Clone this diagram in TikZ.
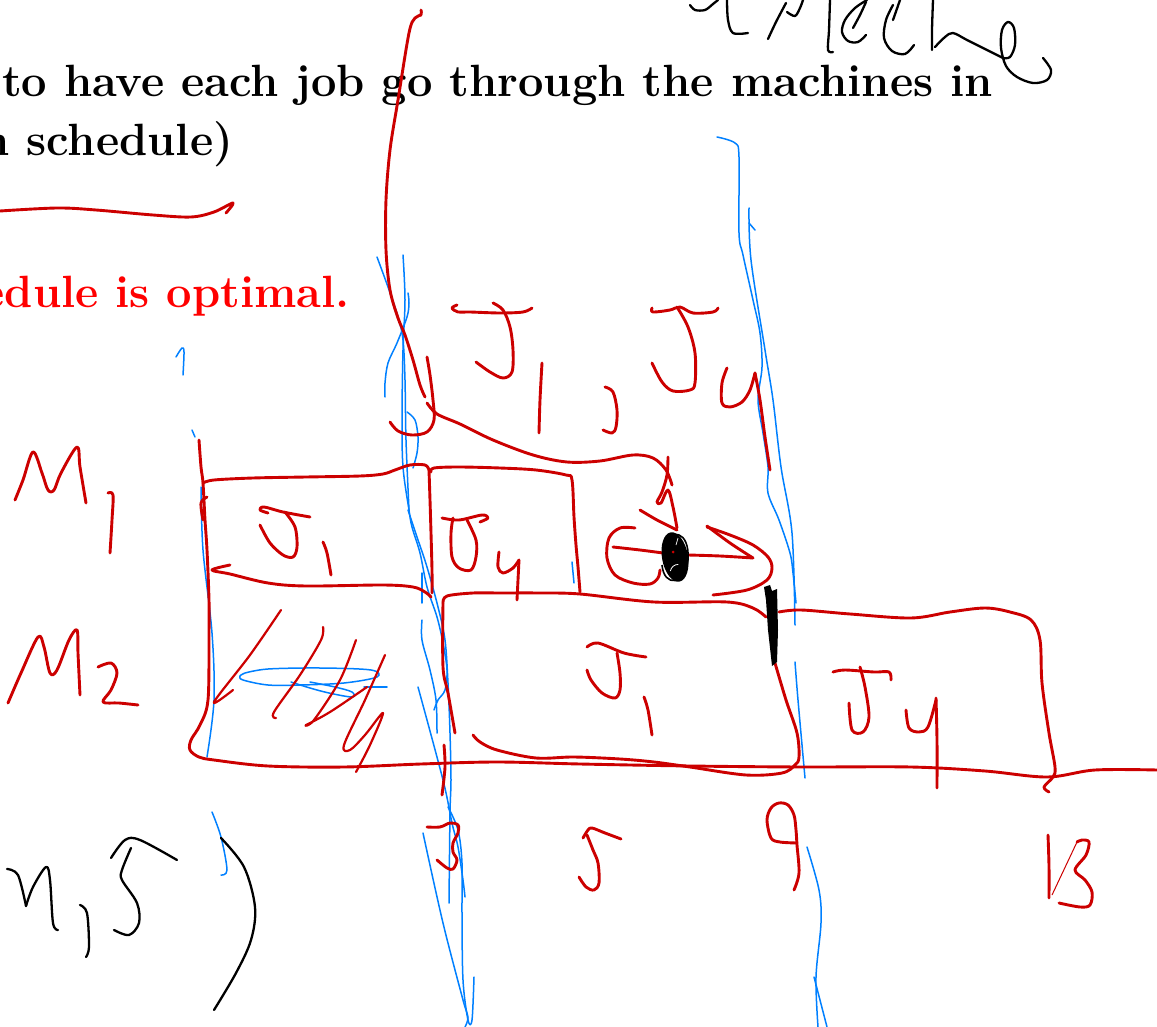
\documentclass[tikz,border=0pt]{standalone}
\usepackage{fontspec}
\definecolor{inkred}{RGB}{204,0,0}
\definecolor{textred}{RGB}{255,0,0}
\definecolor{inkblue}{RGB}{0,128,255}
\tikzset{
  rink/.style={draw=inkred, line width=2.9pt, line cap=round, line join=round},
  rthin/.style={draw=inkred, line width=2.2pt, line cap=round, line join=round},
  bink/.style={draw=inkblue, line width=1.5pt, line cap=round, line join=round},
  kink/.style={draw=black, line width=2.3pt, line cap=round, line join=round},
  tx/.style={inner sep=0pt, outer sep=0pt, font=\fontsize{45.2}{52}\selectfont\bfseries},
}
\newcommand{\stroke}[2]{\draw[#1] plot[smooth, tension=0.55] coordinates {#2};}
\begin{document}
\begin{tikzpicture}[x=1pt,y=-1pt]
\useasboundingbox (0,0) rectangle (1157,1027);
\clip (0,0) rectangle (1157,1027);
\fill[white] (0,0) rectangle (1157,1027);
% printed text
\node[tx, anchor=base west] (l1) at (2,97) {to have each job go through the machines in};
\node[tx, anchor=base east] (l2) at (233,156) {n schedule)};
\node[tx, text=textred, anchor=base east] (l3) at (350,307) {edule is optimal.};

% ---------------- blue ink ----------------
\stroke{bink}{(176,357) (182,348) (184,352) (183,375)}
\stroke{bink}{(192,430) (195,437)}
\stroke{bink}{(201,487) (203,550) (212,633) (214,700) (207,757)}
\stroke{bink}{(212,812) (221,837) (227,870) (221,875)}
\stroke{bink}{(245,673) (268,669) (320,668) (371,670) (377,677) (344,683) (300,685) (268,685) (243,680) (240,676) (245,673)}
\stroke{bink}{(291,682) (310,688) (329,693) (352,697) (352,692) (335,687) (310,682)}
\stroke{bink}{(364,687) (387,687)}
\stroke{bink}{(377,257) (388,287) (398,317) (403,340) (405,380) (406,440) (409,510)}
\stroke{bink}{(403,255) (405,300) (403,350) (402,417) (403,467) (409,510) (412,527) (420,553) (427,587) (437,617) (443,643) (447,670) (445,690) (438,700) (434,710)}
\stroke{bink}{(408,293) (409,303) (407,317) (397,343) (388,363) (385,383) (385,397)}
\stroke{bink}{(407,412) (415,420) (418,437) (417,453) (413,468)}
\stroke{bink}{(408,510) (417,537) (427,567) (438,607) (445,640) (448,683) (450,733) (451,780) (450,813) (449,903)}
\stroke{bink}{(422,573) (422,603)}
\stroke{bink}{(422,620) (422,640) (430,670) (436,700) (437,733)}
\stroke{bink}{(418,687) (443,780) (452,823) (458,847) (463,880) (465,897)}
\stroke{bink}{(448,807) (458,830) (462,863) (462,913) (463,980) (468,1020) (472,1020) (474,977)}
\stroke{bink}{(423,833) (443,923) (463,1000) (468,1017) (465,1027)}
\stroke{bink}{(717,137) (735,143) (739,157) (739,233) (743,255) (753,300) (760,333) (762,367) (758,400) (763,433) (768,467) (768,493) (779,520) (790,553) (793,573) (796,603)}
\stroke{bink}{(749,208) (751,260) (765,350) (773,400) (781,467) (792,533) (795,625)}
\stroke{bink}{(749,223) (755,230)}
\stroke{bink}{(795,662) (798,700) (805,778)}
\stroke{bink}{(807,847) (819,890) (821,923) (816,977) (818,1027)}
\stroke{bink}{(814,977) (827,1027)}
\stroke{bink}{(572,562) (574,583)}

% ---------------- red ink ----------------
% underline
\stroke{rink}{(0,211) (57,208) (96,210) (153,215) (191,217) (214,212) (233,203) (226,213)}
% long line from top
\stroke{rink}{(421,10) (421,15) (415,18) (409,33) (398,100) (390,150) (386,200) (386,250) (390,290) (398,318) (405,335) (413,360) (420,385) (425,397)}
\stroke{rink}{(427,357) (430,375) (433,400) (434,420) (427,432) (412,435) (398,431) (390,422)}
% curve to arrow
\stroke{rink}{(427,403) (437,414) (460,424) (493,440) (533,455) (567,462) (600,461) (633,455) (653,458) (666,470) (672,485)}
\stroke{rink}{(668,457) (667,475) (662,492) (657,502) (661,503) (668,490) (673,507) (677,528)}
\stroke{rink}{(640,510) (657,520) (677,530)}
% C shape
\stroke{rink}{(635,528) (620,528) (609,538) (607,558) (615,575) (633,583) (650,584) (658,578) (660,570)}
\stroke{rink}{(613,547) (640,550) (663,553)}
% right arrow and arc
\stroke{rink}{(688,555) (720,556) (753,558)}
\stroke{rink}{(707,526) (730,543) (753,558)}
\stroke{rink}{(707,527) (730,535) (753,545) (768,557) (772,568) (767,580) (747,590) (713,595)}
% top labels J1 , J4
\stroke{rink}{(457,305) (452,308) (458,312) (470,312) (500,313) (523,312) (532,308)}
\stroke{rink}{(493,303) (503,310) (510,327) (513,350) (512,372) (503,378) (490,372) (476,362)}
\stroke{rink}{(542,363) (540,400) (539,433)}
\stroke{rink}{(605,387) (613,392) (617,410) (616,427) (612,433) (603,430)}
\stroke{rink}{(652,308) (653,312) (670,310) (680,307) (693,313) (713,312) (718,308)}
\stroke{rink}{(677,307) (688,327) (695,353) (695,383) (690,390) (673,391) (662,382) (652,363)}
\stroke{rink}{(727,368) (722,383) (722,403) (730,407) (742,402) (750,390) (755,373)}
\stroke{rink}{(755,373) (760,400) (765,437) (770,470)}
% M1 M2
\stroke{rink}{(15,500) (23,480) (33,452) (42,473) (48,490) (54,490) (61,473) (77,447) (80,467) (86,503)}
\stroke{rink}{(108,493) (113,495) (112,520) (110,553)}
\stroke{rink}{(8,703) (21,673) (38,637) (44,647) (50,673) (57,670) (69,640) (77,630) (78,653) (80,695)}
\stroke{rink}{(98,667) (111,663) (117,673) (111,690) (103,702) (119,703) (138,705)}
% M1 row boxes
\stroke{rink}{(203,483) (214,480) (253,478) (306,477) (360,476) (383,474) (395,470) (410,465) (425,465) (429,470)}
\stroke{rink}{(429,470) (430,500) (431,533) (432,570) (432,593)}
\stroke{rink}{(199,440) (201,467) (203,483) (205,520) (207,550) (209,600) (209,633) (208,700) (200,725) (191,740) (190,750) (199,757) (214,760) (268,766) (344,767) (421,764) (497,762) (580,764) (690,766) (801,767) (911,767) (985,771) (1047,777) (1095,770) (1157,770)}
\stroke{rink}{(207,497) (201,503) (203,520)}
\stroke{rink}{(230,565) (212,570) (230,574) (268,583) (306,586) (383,585) (413,587) (425,592) (431,597)}
\stroke{rink}{(431,472) (434,468) (459,467) (500,468) (536,470) (566,475) (572,480) (574,517) (576,545) (578,567) (580,592)}
% M1 labels
\stroke{rink}{(268,513) (260,510) (264,507) (283,512) (310,517)}
\stroke{rink}{(285,512) (295,527) (297,547) (293,557) (283,555) (270,543) (260,525)}
\stroke{rink}{(323,542) (327,553) (331,575)}
\stroke{rink}{(442,518) (459,520) (482,515) (488,518) (480,522)}
\stroke{rink}{(467,520) (476,540) (476,557) (471,570) (459,568) (452,557) (451,533) (453,518)}
\stroke{rink}{(499,552) (498,567) (503,573) (513,568) (519,560)}
\stroke{rink}{(519,560) (517,600)}
% M2 row boxes
\stroke{rink}{(443,603) (447,596) (473,593) (500,593) (540,593) (580,594) (654,602) (727,602) (753,608) (766,617)}
\stroke{rink}{(443,603) (443,667) (448,693) (455,733)}
\stroke{rink}{(444,745) (445,767) (442,795)}
\stroke{rink}{(473,735) (480,742) (497,750) (536,758) (574,757) (620,759) (654,762) (690,767) (746,775) (782,773) (795,765) (799,757) (797,733) (786,700) (775,663)}
\stroke{rink}{(779,612) (801,610) (850,614) (911,618) (950,612) (985,608) (1010,612) (1031,620) (1040,640) (1042,683) (1049,733) (1055,767) (1053,777) (1044,787) (1049,792)}
% M2 labels
\stroke{rink}{(587,647) (598,643) (624,653) (646,657)}
\stroke{rink}{(617,653) (620,673) (620,690) (615,698) (602,693) (591,680) (587,670)}
\stroke{rink}{(644,697) (648,710) (652,735)}
\stroke{rink}{(833,672) (845,670) (874,672) (889,672) (891,680)}
\stroke{rink}{(860,667) (865,687) (869,717) (863,732) (852,730) (849,703)}
\stroke{rink}{(906,710) (909,728) (919,732) (928,727) (936,700)}
\stroke{rink}{(936,698) (937,740) (937,788)}
% hatch in M2 first slot
\stroke{rthin}{(281,610) (250,655) (214,702) (233,690)}
\stroke{rthin}{(323,627) (321,640) (300,675) (274,712) (276,718)}
\stroke{rthin}{(356,640) (340,680) (314,720) (306,725) (330,712) (367,687)}
\stroke{rthin}{(385,655) (365,700) (344,745) (350,750) (365,735) (383,713) (370,745) (356,772)}
% bottom numbers
\stroke{rink}{(427,827) (440,827) (450,823) (458,825) (458,833) (453,843) (453,852) (457,860) (453,869) (447,868) (437,860)}
\stroke{rink}{(583,838) (588,830) (592,828) (605,833) (621,839)}
\stroke{rink}{(587,835) (593,850) (598,863) (599,883) (594,890) (586,887) (579,877)}
\stroke{rink}{(797,843) (780,842) (771,838) (767,820) (771,808) (779,803) (788,805) (794,815) (796,830) (797,845) (799,873) (794,890)}
\stroke{rink}{(1048,835) (1049,866) (1049,898)}
\stroke{rink}{(1077,842) (1082,840) (1089,842) (1086,855) (1075,870) (1085,880) (1092,892) (1090,905) (1080,907) (1059,903)}
\draw[inkred, line width=1pt] (1077,842) -- (1052,895);

% ---------------- black ink ----------------
\stroke{kink}{(690,5) (695,10) (705,10) (713,4) (718,0)}
\stroke{kink}{(727,0) (728,20) (733,33) (748,33)}
\stroke{kink}{(768,39) (776,22) (786,3)}
\stroke{kink}{(787,12) (795,16) (800,8) (803,0)}
\stroke{kink}{(830,0) (829,30) (828,50) (833,52)}
\stroke{kink}{(867,0) (855,8) (845,20) (842,32) (848,41) (858,42) (866,35)}
\stroke{kink}{(853,28) (860,15) (866,2)}
\stroke{kink}{(893,5) (886,20) (884,38) (892,51) (905,54) (914,45)}
\stroke{kink}{(900,0) (893,20)}
\stroke{kink}{(933,0) (932,30) (932,50)}
\stroke{kink}{(935,47) (945,37) (953,33) (967,40) (987,50) (1003,58)}
\stroke{kink}{(1003,58) (1010,57) (1015,45) (1014,28) (1008,22) (1002,30) (1001,48) (1006,66) (1017,77) (1033,83) (1047,80) (1051,70) (1043,58)}
% black scribble dot and bar
\fill[black, rotate around={10:(675,557)}] (675,557) ellipse [x radius=13, y radius=25];
\draw[black, line width=1.6pt] (663,545) .. controls (670,528) and (690,530) .. (688,560) .. controls (686,585) and (664,588) .. (662,565);
\draw[white, line width=0.8pt, rotate around={10:(675,557)}] (668,570) arc[start angle=200, end angle=280, radius=8];
\draw[white, line width=0.7pt] (676,545) -- (678,538);
\fill[inkred] (673,552) circle (1.5);
\fill[black] (764,587) -- (770,585) -- (772,591) -- (777,589) -- (778,630) -- (777,662) -- (772,666) -- (768,630) -- (766,600) -- cycle;
% n , S )
\stroke{kink}{(7,869) (18,875) (26,906)}
\stroke{kink}{(26,906) (33,887) (46,867) (50,880) (53,923) (58,930)}
\stroke{kink}{(80,905) (87,913) (89,947) (86,957)}
\stroke{kink}{(111,858) (125,840) (140,840) (177,860)}
\stroke{kink}{(131,848) (122,870) (122,880) (137,903) (139,923) (129,935) (114,930)}
\stroke{kink}{(221,838) (244,867) (255,907) (251,940) (236,973) (214,1010)}
\end{tikzpicture}
\end{document}
